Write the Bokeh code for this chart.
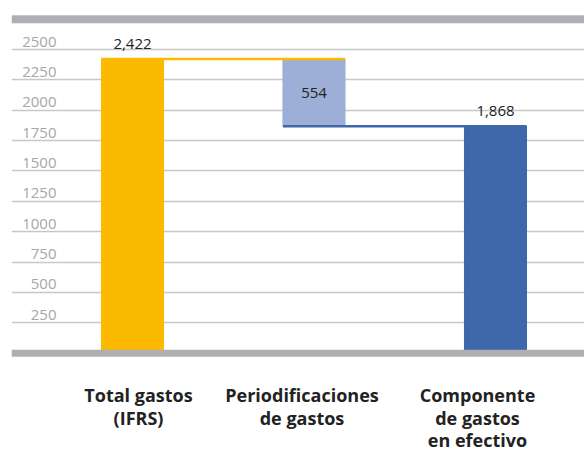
from bokeh.plotting import figure
from bokeh.models import Range1d, Span, Grid, FixedTicker, ColumnDataSource
from bokeh.core.properties import value
from bokeh.embed import file_html
from bokeh.resources import INLINE

# ---- data ----
categories = ["Total gastos\n(IFRS)", "Periodificaciones\nde gastos", "Componente\nde gastos\nen efectivo"]
total_ifrs = 2422
accruals = 554
cash_component = 1868
y_ticks = [250, 500, 750, 1000, 1250, 1500, 1750, 2000, 2250, 2500]
y_top = 2750

# ---- colours / layout ----
C_YELLOW = "#FBBA00"
C_LIGHT = "#9DAED7"
C_BLUE = "#3E68A9"
C_GRAY_BAR = "#AEAFB2"
C_GRID = "#C8C8C8"
C_TICK = "#A6A6A6"
C_TEXT = "#222222"
BAR_W = 0.342

xs = list(range(len(categories)))
bottoms = [0, total_ifrs - accruals, 0]
tops = [total_ifrs, total_ifrs, cash_component]
colors = [C_YELLOW, C_LIGHT, C_BLUE]

p = figure(width=584, height=455,
           x_range=Range1d(-0.6667, 2.4904), y_range=Range1d(-842, 2837.5),
           x_axis_type=None, y_axis_type=None,
           output_backend="svg", toolbar_location=None,
           min_border_left=11, min_border_right=0, min_border_top=8, min_border_bottom=0)
p.outline_line_color = None
p.background_fill_color = "white"

# gridlines
grid = Grid(dimension=1, ticker=FixedTicker(ticks=y_ticks),
            grid_line_color=C_GRID, grid_line_width=1.5)
p.add_layout(grid)

# bars
src = ColumnDataSource(dict(x=xs, bottom=bottoms, top=tops, color=colors))
p.vbar(x="x", bottom="bottom", top="top", width=BAR_W, color="color", source=src)

# connectors
p.segment(x0=[xs[0] - BAR_W / 2], y0=[total_ifrs], x1=[xs[1] + BAR_W / 2], y1=[total_ifrs],
          line_color=C_YELLOW, line_width=2.5)
p.segment(x0=[xs[1] - BAR_W / 2], y0=[total_ifrs - accruals], x1=[xs[2] + BAR_W / 2],
          y1=[total_ifrs - accruals], line_color=C_BLUE, line_width=2.5)

# gray frame bars
p.add_layout(Span(location=0, dimension="width", line_color=C_GRAY_BAR, line_width=7))
p.add_layout(Span(location=y_top, dimension="width", line_color=C_GRAY_BAR, line_width=8))

# tick labels (above the gridlines)
p.text(x=[p.x_range.start] * len(y_ticks), y=y_ticks, text=[str(t) for t in y_ticks],
       x_offset=45, y_offset=-8, text_align="right", text_baseline="alphabetic",
       text_font=value("Open Sans"), text_font_size="15px", text_color=C_TICK)

# value labels
p.text(x=[xs[0], xs[2]], y=[total_ifrs, cash_component],
       text=[f"{total_ifrs:,}", f"{cash_component:,}"],
       y_offset=-15, text_align="center", text_baseline="alphabetic",
       text_font=value("Open Sans"), text_font_size="15px", text_color=C_TEXT)
p.text(x=[xs[1]], y=[total_ifrs - accruals / 2], text=[f"{accruals:,}"],
       text_align="center", text_baseline="middle",
       text_font=value("Open Sans"), text_font_size="15px", text_color=C_TEXT)

# category labels
label_dx = [6, -12, -18]
p.text(x=xs, y=[0] * len(xs), text=categories, x_offset=label_dx, y_offset=30,
       text_align="center", text_baseline="top", text_line_height=0.94,
       text_font=value("Open Sans"), text_font_style="bold", text_font_size="18px",
       text_color=C_TEXT)

open("out.html", "w").write(file_html(p, INLINE))
